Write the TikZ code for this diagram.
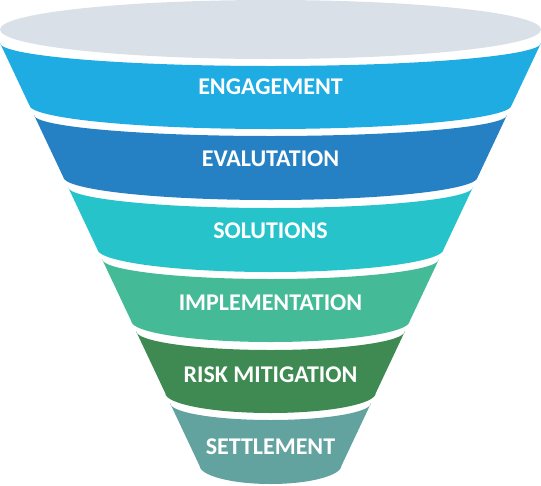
\documentclass[tikz,border=0pt]{standalone}
\usepackage{fontspec}
\setmainfont{Carlito}
\usepackage{tikz}
\usetikzlibrary{positioning, calc}
\definecolor{FunnelTop}{HTML}{D9E0E7}
\definecolor{BandEngage}{HTML}{1FACE3}
\definecolor{BandEval}{HTML}{2681C4}
\definecolor{BandSolve}{HTML}{26C4CA}
\definecolor{BandImpl}{HTML}{44BA97}
\definecolor{BandRisk}{HTML}{3F8A53}
\definecolor{BandSettle}{HTML}{62A39F}

\begin{document}
\begin{tikzpicture}[x=1pt, y=1pt,
    bandlabel/.style={text=white, inner sep=0pt,
        font=\fontsize{24}{28}\selectfont\bfseries}]
\useasboundingbox (0,0) rectangle (541,-485);
\fill[FunnelTop] (270.5,-29.5) ellipse[x radius=270.5pt, y radius=29.5pt];
\foreach \i/\bandcol/\dtop/\dbot/\lbl/\nm in {
    0/BandEngage/23/24/ENGAGEMENT/engagement,
    1/BandEval/21/23/EVALUTATION/evaluation,
    2/BandSolve/21/23/SOLUTIONS/solutions,
    3/BandImpl/20/21/IMPLEMENTATION/implementation,
    4/BandRisk/19/20/RISK MITIGATION/risk,
    5/BandSettle/17/19/SETTLEMENT/settlement}{
  \pgfmathsetmacro{\ytop}{43+72*\i}
  \pgfmathsetmacro{\ybot}{\ytop+62}
  \pgfmathsetmacro{\xtop}{0.472*(\ytop-43)}
  \pgfmathsetmacro{\xbot}{0.472*(\ybot-43)}
  \pgfmathsetmacro{\wtop}{270.5-\xtop}
  \pgfmathsetmacro{\wbot}{270.5-\xbot}
  \fill[\bandcol] (\xtop,-\ytop) -- (\xbot,-\ybot)
      arc[start angle=180, end angle=360, x radius=\wbot pt, y radius=\dbot pt]
      -- ({541-\xtop},-\ytop)
      arc[start angle=0, end angle=-180, x radius=\wtop pt, y radius=\dtop pt]
      -- cycle;
  \node[bandlabel] (\nm) at (270.5,{-(\ytop+44)}) {\lbl};
}
\end{tikzpicture}
\end{document}
